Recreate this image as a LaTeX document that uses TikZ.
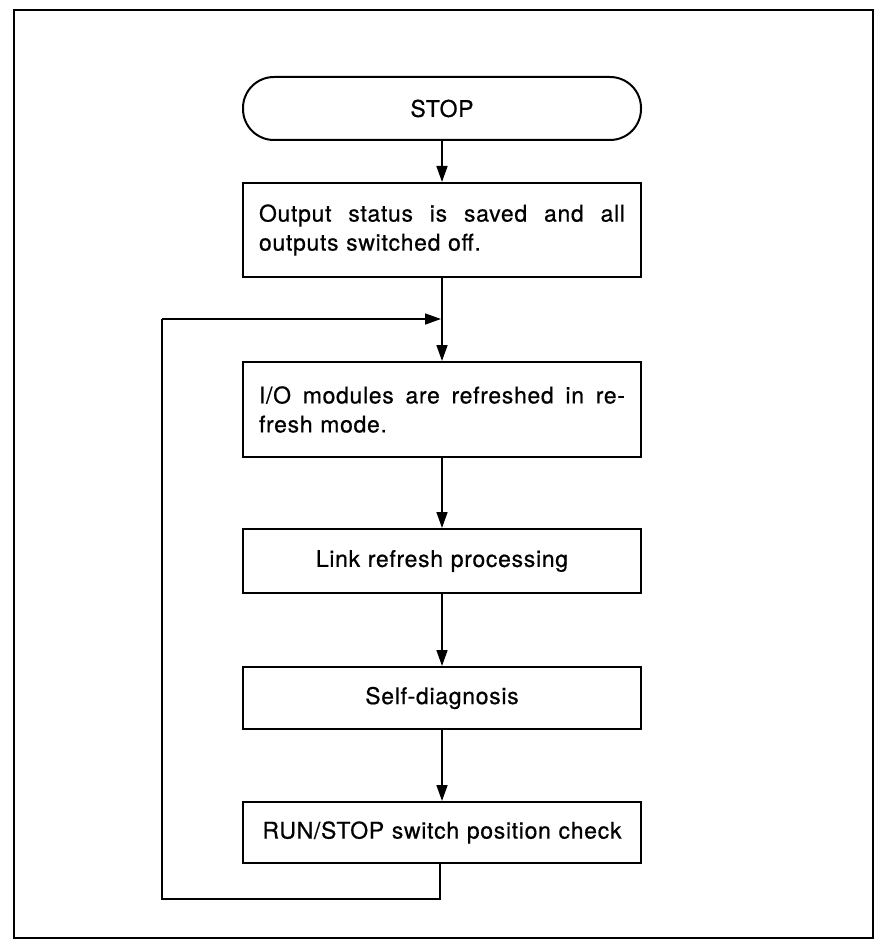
\documentclass[tikz,border=0pt]{standalone}
\usepackage{fontspec}
\setmainfont{TeX Gyre Heros}[LetterSpace=3,FakeBold=0.6]
\usepackage{tikz}
\usetikzlibrary{calc,positioning,arrows.meta}
\hbadness=10000
\newcommand\plcfont{\fontsize{23}{29}\selectfont\spaceskip=.33em plus 1em minus .05em\relax}
\tikzset{
 plc frame/.style={line width=1.6pt},
 plc box/.style={draw,line width=2pt,rectangle,minimum width=398pt,
                 text width=366pt,inner xsep=16pt,inner ysep=0pt,
                 font=\plcfont},
 plc term/.style={plc box,rounded corners=31pt,minimum width=394pt,
                  minimum height=63pt,align=center},
 plc flow/.style={line width=1.7pt,-{Triangle[length=16pt,width=11pt]}},
 plc line/.style={line width=1.7pt}
}
\begin{document}
\begin{tikzpicture}[x=1pt,y=-1pt]
 \useasboundingbox (0,0) rectangle (877,941);
 \draw[plc frame] (14,10) rectangle (873,938);
 % boxes of the STOP sequence
 \node[plc term] (stop) at (442,108.5) {STOP};
 \node[plc box,align=justify,minimum height=94pt] (save) at (442,230)
   {Output status is saved and all\linebreak outputs switched off.};
 \node[plc box,align=justify,minimum height=95pt] (refresh) at (442,409.5)
   {I/O modules are refreshed in re-\linebreak fresh mode.};
 \node[plc box,align=center,minimum height=64pt] (link) at (442,561)
   {Link refresh processing};
 \node[plc box,align=center,minimum height=62pt] (diag) at (442,698)
   {Self-diagnosis};
 \node[plc box,align=center,minimum height=61pt] (check) at (442,832.5)
   {RUN/STOP switch position check};
 % flow
 \coordinate (join) at (441,319);
 \coordinate (loopbot) at (440,899);
 \coordinate (loopleft) at (162,319);
 \draw[plc flow] (stop) -- (save);
 \draw[plc flow] (save) -- (refresh);
 \draw[plc flow] (refresh) -- (link);
 \draw[plc flow] (link) -- (diag);
 \draw[plc flow] (diag) -- (check);
 % return loop
 \draw[plc line] (check.south -| loopbot) -- (loopbot) -| (loopleft);
 \draw[plc flow] (loopleft) -- (join);
\end{tikzpicture}
\end{document}
